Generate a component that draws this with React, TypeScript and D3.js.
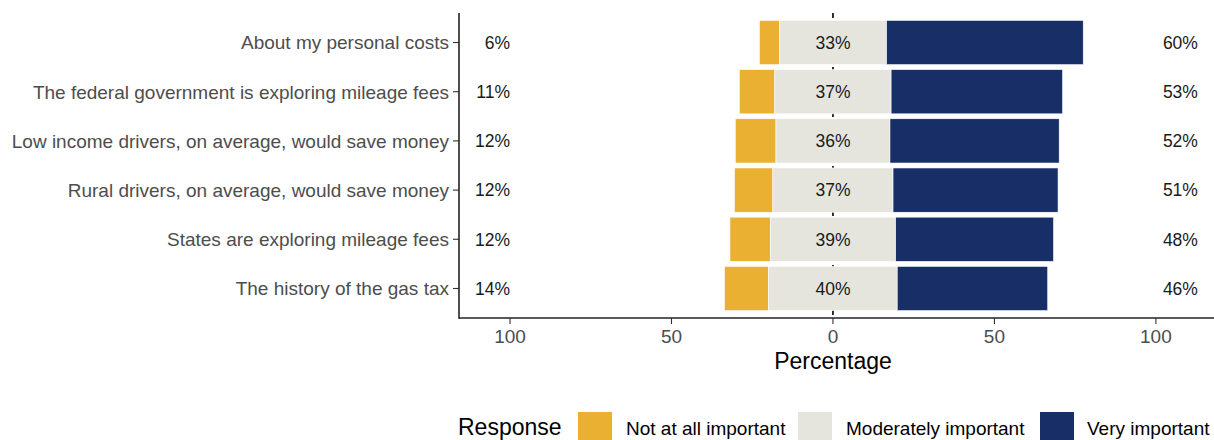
import React from "react";
import * as d3 from "d3";

const categories = [
  "About my personal costs",
  "The federal government is exploring mileage fees",
  "Low income drivers, on average, would save money",
  "Rural drivers, on average, would save money",
  "States are exploring mileage fees",
  "The history of the gas tax",
];
const notAtAll = [6.2, 11.0, 12.6, 11.9, 12.5, 13.7];
const moderately = [33.2, 36.0, 35.3, 37.2, 38.8, 39.8];
const very = [60.9, 53.1, 52.4, 51.1, 48.9, 46.6];
const lowLabels = ["6%", "11%", "12%", "12%", "12%", "14%"];
const midLabels = ["33%", "37%", "36%", "37%", "39%", "40%"];
const highLabels = ["60%", "53%", "52%", "51%", "48%", "46%"];
const xTicks = [-100, -50, 0, 50, 100];
const responses = ["Not at all important", "Moderately important", "Very important"];
const colors = ["#EAB032", "#E5E5DE", "#172F66"];

const W = 1214;
const H = 440;
const FONT = "'Liberation Sans', Arial, Helvetica, sans-serif";

export default function App() {
  const panelLeft = 459;
  const panelRight = 1215;
  const panelTop = 13;
  const panelBottom = 318;
  const x = d3.scaleLinear().domain([-115.8, 118.3]).range([panelLeft, panelRight]);
  const y = d3
    .scaleBand<string>()
    .domain(categories)
    .range([panelTop, panelBottom])
    .paddingInner(0.1)
    .paddingOuter(0.15);
  const bw = y.bandwidth();

  const legendItems = [
    { key: 578, text: 626 },
    { key: 798, text: 846 },
    { key: 1040, text: 1087 },
  ];

  return (
    <svg
      width={W}
      height={H}
      style={{ position: "absolute", left: 0, top: 0, background: "#fff" }}
      fontFamily={FONT}
    >
      {/* zero dashed line */}
      <line
        x1={x(0)}
        x2={x(0)}
        y1={panelTop}
        y2={panelBottom}
        stroke="#000"
        strokeWidth={1.6}
        strokeDasharray="5,4"
      />
      {categories.map((c, i) => {
        const yy = y(c)!;
        const half = moderately[i] / 2;
        const segs = [
          { x0: -half - notAtAll[i], x1: -half, col: colors[0] },
          { x0: -half, x1: half, col: colors[1] },
          { x0: half, x1: half + very[i], col: colors[2] },
        ];
        const cy = yy + bw / 2;
        return (
          <g key={c}>
            {segs.map((s, j) => (
              <rect
                key={j}
                x={x(s.x0)}
                y={yy}
                width={x(s.x1) - x(s.x0)}
                height={bw}
                fill={s.col}
                stroke="#fff"
                strokeWidth={0.6}
              />
            ))}
            <text x={x(-100)} y={cy} dy="0.36em" textAnchor="end" fontSize={17.5} fill="#1a1a1a">
              {lowLabels[i]}
            </text>
            <text x={x(0)} y={cy} dy="0.36em" textAnchor="middle" fontSize={17.5} fill="#1a1a1a">
              {midLabels[i]}
            </text>
            <text x={x(100) + 7} y={cy} dy="0.36em" textAnchor="start" fontSize={17.5} fill="#1a1a1a">
              {highLabels[i]}
            </text>
            {/* y tick */}
            <line x1={panelLeft - 6} x2={panelLeft} y1={cy} y2={cy} stroke="#333" strokeWidth={1.1} />
            <text x={panelLeft - 10} y={cy} dy="0.36em" textAnchor="end" fontSize={19} fill="#4D4D4D">
              {c}
            </text>
          </g>
        );
      })}
      {/* axes */}
      <line x1={panelLeft} x2={panelLeft} y1={panelTop} y2={panelBottom + 0.8} stroke="#222" strokeWidth={1.6} />
      <line x1={panelLeft} x2={W} y1={panelBottom} y2={panelBottom} stroke="#222" strokeWidth={1.6} />
      {xTicks.map((t) => (
        <g key={t}>
          <line x1={x(t)} x2={x(t)} y1={panelBottom} y2={panelBottom + 6} stroke="#333" strokeWidth={1.1} />
          <text x={x(t)} y={343} textAnchor="middle" fontSize={19} fill="#4D4D4D">
            {Math.abs(t)}
          </text>
        </g>
      ))}
      <text x={x(0)} y={369} textAnchor="middle" fontSize={23} fill="#000">
        Percentage
      </text>
      {/* legend */}
      <text x={458} y={434.5} fontSize={23} fill="#000">
        Response
      </text>
      {responses.map((r, i) => (
        <g key={r}>
          <rect x={legendItems[i].key} y={412} width={34} height={34} fill={colors[i]} />
          <text x={legendItems[i].text} y={435} fontSize={19} fill="#000">
            {r}
          </text>
        </g>
      ))}
    </svg>
  );
}
